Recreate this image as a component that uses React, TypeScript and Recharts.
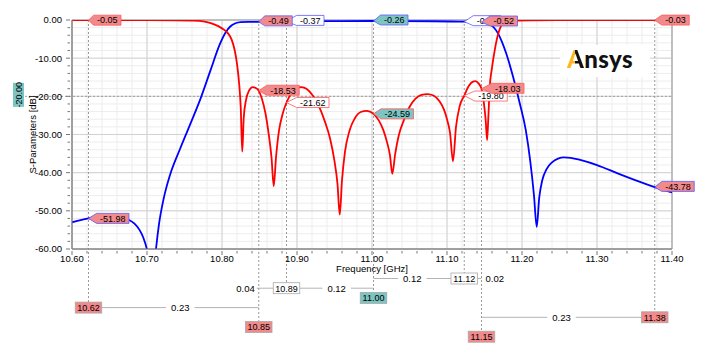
import React from 'react';
import {
  LineChart, Line, XAxis, YAxis, CartesianGrid,
  ReferenceLine, ReferenceDot, ReferenceArea,
} from 'recharts';

// S11 (red), [GHz, dB]
const s11Points: [number, number][] = [
  [10.6, -0.05], [10.65, -0.05], [10.7, -0.05], [10.74, -0.07], [10.76, -0.15],
  [10.775, -0.35], [10.785, -0.8], [10.795, -1.6], [10.803, -2.6], [10.808, -3.5],
  [10.813, -5.2], [10.817, -8], [10.82, -11.5], [10.823, -17], [10.825, -23],
  [10.827, -34.5], [10.829, -25.5], [10.832, -21], [10.836, -18.5], [10.841, -17.6],
  [10.845, -17.8], [10.849, -18.53], [10.853, -20.5], [10.858, -24.5], [10.862, -29.5],
  [10.866, -36], [10.869, -43.5], [10.872, -36], [10.876, -29], [10.881, -24.5],
  [10.886, -21.62], [10.892, -19.3], [10.899, -17.9], [10.906, -17.6], [10.913, -18.1],
  [10.921, -19.8], [10.929, -22.5], [10.937, -26.5], [10.944, -31], [10.95, -37],
  [10.954, -43], [10.957, -51], [10.96, -42], [10.964, -34.5], [10.97, -29],
  [10.977, -25.8], [10.985, -24.1], [10.993, -23.8], [11.002, -24.59], [11.009, -26.3],
  [11.015, -28.8], [11.02, -32], [11.024, -35.5], [11.027, -40.3], [11.031, -35],
  [11.036, -30], [11.042, -26.5], [11.05, -22.8], [11.058, -20.6], [11.066, -19.6],
  [11.074, -19.4], [11.082, -19.8], [11.09, -21.3], [11.096, -23.5], [11.1, -26],
  [11.104, -29.5], [11.108, -37], [11.112, -28], [11.117, -22.5], [11.123, -19.8],
  [11.129, -17.3], [11.134, -16.2], [11.138, -16], [11.142, -16.6], [11.146, -18.03],
  [11.149, -21.5], [11.1515, -26], [11.1535, -31.5], [11.155, -26], [11.157, -17.5],
  [11.16, -12.5], [11.164, -7.5], [11.168, -3.8], [11.172, -1.6], [11.176, -0.7],
  [11.182, -0.3], [11.19, -0.15], [11.21, -0.08], [11.25, -0.05], [11.3, -0.04],
  [11.377, -0.03], [11.4, -0.03],
];

// S21 (blue), [GHz, dB]
const s21Points: [number, number][] = [
  [10.6, -53], [10.61, -52.5], [10.622, -51.98], [10.635, -51.6], [10.65, -51.5],
  [10.665, -51.7], [10.675, -52.3], [10.683, -53.3], [10.69, -55], [10.695, -57],
  [10.7, -60.2], [10.705, -66], [10.709, -66], [10.712, -60], [10.716, -53.5],
  [10.722, -47], [10.731, -40.4], [10.744, -33.8], [10.757, -27.6], [10.771, -20.8],
  [10.785, -13], [10.797, -6.4], [10.805, -3.2], [10.811, -1.7], [10.818, -0.85],
  [10.825, -0.55], [10.835, -0.5], [10.849, -0.49], [10.865, -0.42], [10.886, -0.37],
  [10.92, -0.31], [10.96, -0.27], [11.002, -0.26], [11.04, -0.28], [11.08, -0.33],
  [11.105, -0.39], [11.123, -0.44], [11.137, -0.48], [11.146, -0.52], [11.152, -0.75],
  [11.158, -1.2], [11.163, -2.1], [11.168, -3.5], [11.173, -5.6], [11.179, -8.8],
  [11.188, -14.8], [11.197, -21.8], [11.205, -28.8], [11.211, -37], [11.216, -46],
  [11.2196, -54.2], [11.223, -46.5], [11.227, -42], [11.233, -39], [11.24, -37.3],
  [11.248, -36.3], [11.256, -36], [11.265, -36.1], [11.28, -36.8], [11.3, -38],
  [11.33, -40.4], [11.35, -41.9], [11.377, -43.78], [11.4, -45.2],
];

// markers and their readouts
const markerFreqs = [10.622, 10.849, 10.886, 11.002, 11.123, 11.146, 11.377];
const s11Readouts = [-0.05, -18.53, -21.62, -24.59, -19.8, -18.03, -0.03];
const s21Readouts = [-51.98, -0.49, -0.37, -0.26, -0.44, -0.52, -43.78];
const yLimit = -20;

const xMajorTicks = [10.6, 10.7, 10.8, 10.9, 11.0, 11.1, 11.2, 11.3, 11.4];
const xMinorTicks = [
  10.6, 10.62, 10.64, 10.66, 10.68, 10.7, 10.72, 10.74, 10.76, 10.78,
  10.8, 10.82, 10.84, 10.86, 10.88, 10.9, 10.92, 10.94, 10.96, 10.98,
  11.0, 11.02, 11.04, 11.06, 11.08, 11.1, 11.12, 11.14, 11.16, 11.18,
  11.2, 11.22, 11.24, 11.26, 11.28, 11.3, 11.32, 11.34, 11.36, 11.38, 11.4,
];
const yMajorTicks = [0, -10, -20, -30, -40, -50, -60];
const yMinorTicks = [
  0, -2, -4, -6, -8, -10, -12, -14, -16, -18, -20, -22, -24, -26, -28, -30,
  -32, -34, -36, -38, -40, -42, -44, -46, -48, -50, -52, -54, -56, -58, -60,
];

// look of the marker table
const RED = '#ff0000';
const BLUE = '#0000ff';
const TAG_RED = '#f2898a';
const TAG_TEAL = '#7cc5c2';
const TAG_WHITE = '#ffffff';
const markerFill = [TAG_RED, TAG_RED, TAG_WHITE, TAG_TEAL, TAG_WHITE, TAG_RED, TAG_RED];
const markerRow = [3, 5, 1, 2, 0, 6, 4];
const s11Shift: [number, number][] = [[5, 0], [8, -0.5], [10, 0], [7.5, 0], [10.5, 0.5], [10, -0.5], [7, 0]];
const s21Shift: [number, number][] = [[8, 0], [6, -1], [10, -1], [7, -1], [9, -1], [8.5, -1], [7, -0.7]];
const s21Order = [0, 2, 1, 3, 4, 5, 6];

const charW = (c: string) => (c === '.' ? 0.278 : c === '-' ? 0.333 : 0.556);
const textWidth = (s: string, size: number) =>
  s.split('').reduce((w, c) => w + charW(c) * size, 0);
const isMajor = (v: number, step: number) => Math.abs(v / step - Math.round(v / step)) < 1e-6;
const rowY = (bottom: number, row: number) => bottom + 29.5 + 9.7 * row;
const tagW = (s: string) => textWidth(s, 9) + 4;

function XTick(props: any) {
  const { x, y, payload } = props;
  const v = payload.value as number;
  const major = isMajor(v, 0.1);
  return (
    <g>
      <line x1={x} x2={x} y1={y} y2={y + (major ? 4 : 2.5)} stroke="#777" />
      {major && (
        <text x={x} y={y + 11.2} textAnchor="middle" fontSize={9.5} fill="#000">
          {v.toFixed(2)}
        </text>
      )}
    </g>
  );
}

function YTick(props: any) {
  const { x, y, payload } = props;
  const v = payload.value as number;
  const major = isMajor(v, 10);
  return (
    <g>
      <line x1={x - (major ? 4 : 2.5)} x2={x} y1={y} y2={y} stroke="#777" />
      {major && (
        <text x={x - 8} y={y + 3.4} textAnchor="end" fontSize={9.5} fill="#000">
          {v.toFixed(2)}
        </text>
      )}
    </g>
  );
}

function Readout({ cx, cy, text, fill, stroke, dx, dy }: any) {
  const w = textWidth(text, 9) + 7;
  const h = 10;
  const bx = cx + dx;
  const by = cy + dy;
  const pts = `${cx},${cy} ${bx},${by - h / 2} ${bx + w},${by - h / 2} ${bx + w},${by + h / 2} ${bx},${by + h / 2}`;
  return (
    <g>
      <polygon points={pts} fill={fill} stroke={stroke} strokeWidth={0.8} />
      <text x={bx + w / 2} y={by + 3.3} textAnchor="middle" fontSize={9} fill="#000">{text}</text>
    </g>
  );
}

function FreqTag({ x, y, text, fill }: any) {
  const w = tagW(text);
  return (
    <g>
      <rect x={x - w / 2} y={y - 5.5} width={w} height={11} fill={fill} stroke="#a8a8a8" strokeWidth={0.8} />
      <text x={x} y={y + 3.3} textAnchor="middle" fontSize={9} fill="#000">{text}</text>
    </g>
  );
}

const markerShape = (i: number) => (p: any) => {
  const x = p.x1;
  const top = Math.min(p.y1, p.y2);
  const bottom = Math.max(p.y1, p.y2);
  const y = rowY(bottom, markerRow[i]);
  return (
    <g>
      <line x1={x} x2={x} y1={top} y2={y - 5.5} stroke="#9a9a9a" strokeDasharray="2 2" />
      <FreqTag x={x} y={y} text={markerFreqs[i].toFixed(2)} fill={markerFill[i]} />
    </g>
  );
};

const deltaShape = (i: number) => (p: any) => {
  const xa = Math.min(p.x1, p.x2);
  const xb = Math.max(p.x1, p.x2);
  const bottom = p.y1;
  const ra = markerRow[i];
  const rb = markerRow[i + 1];
  const ownerIsA = ra < rb;
  const y = rowY(bottom, Math.min(ra, rb));
  const text = (markerFreqs[i + 1] - markerFreqs[i]).toFixed(2);
  const tw = textWidth(text, 9.5);
  const lc = '#b4b4b4';
  if (xb - xa < 45) {
    if (ownerIsA) {
      return (
        <g>
          <line x1={xa} x2={xb} y1={y} y2={y} stroke={lc} />
          <text x={xb + 4} y={y + 3.4} fontSize={9.5} fill="#000">{text}</text>
        </g>
      );
    }
    return (
      <g>
        <line x1={xa - 2} x2={xb} y1={y} y2={y} stroke={lc} />
        <text x={xa - 4} y={y + 3.4} textAnchor="end" fontSize={9.5} fill="#000">{text}</text>
      </g>
    );
  }
  const ow = tagW(markerFreqs[ownerIsA ? i : i + 1].toFixed(2));
  const mid = ownerIsA ? (xa + ow / 2 + xb) / 2 : (xa + xb - ow / 2) / 2;
  return (
    <g>
      <line x1={xa} x2={xb} y1={y} y2={y} stroke={lc} />
      <rect x={mid - tw / 2 - 5} y={y - 5} width={tw + 10} height={10} fill="#fff" />
      <text x={mid} y={y + 3.4} textAnchor="middle" fontSize={9.5} fill="#000">{text}</text>
    </g>
  );
};

const limitShape = (p: any) => {
  const lx = p.x1 - 53.5;
  const ly = p.y1 - 1.5;
  return (
    <g>
      <line x1={p.x1 - 47} x2={p.x2} y1={p.y1} y2={p.y2} stroke="#a0a0a0" strokeDasharray="2 2" />
      <g transform={`rotate(-90, ${lx}, ${ly})`}>
        <rect x={lx - 12} y={ly - 5.5} width={24} height={11} fill={TAG_TEAL} />
        <text x={lx} y={ly + 3.3} textAnchor="middle" fontSize={9} fill="#000">{yLimit.toFixed(2)}</text>
      </g>
    </g>
  );
};

export default function App() {
  const s11Data = s11Points.map(([f, db]) => ({ f, db }));
  const s21Data = s21Points.map(([f, db]) => ({ f, db }));

  return (
    <div
      style={{
        position: 'absolute', left: 0, top: 0, width: 709, height: 351,
        background: '#fff', fontFamily: '"Liberation Sans", Arial, sans-serif',
      }}
    >
      <LineChart width={709} height={351} margin={{ top: 20, right: 37, bottom: 79, left: 0 }}>
        <XAxis
          type="number" dataKey="f" domain={[10.6, 11.4]} ticks={xMinorTicks} interval={0}
          allowDataOverflow tickSize={0} tickLine={false} tick={<XTick />} height={23} stroke="#808080"
          label={{ value: 'Frequency [GHz]', position: 'insideBottom', offset: 0, fontSize: 9.5, fill: '#000' }}
        />
        <YAxis
          type="number" domain={[-60, 0]} ticks={yMinorTicks} interval={0}
          allowDataOverflow tickSize={0} tickLine={false} tick={<YTick />} width={72} stroke="#808080"
          label={{ value: 'S-Parameters [dB]', angle: -90, position: 'center', dx: -3, fontSize: 9.5, fill: '#000' }}
        />
        <XAxis xAxisId="major" type="number" dataKey="f" domain={[10.6, 11.4]} ticks={xMajorTicks} hide allowDataOverflow />
        <YAxis yAxisId="major" type="number" domain={[-60, 0]} ticks={yMajorTicks} hide allowDataOverflow />
        <CartesianGrid stroke="#ededed" />
        <CartesianGrid xAxisId="major" yAxisId="major" stroke="#d2d2d2" />
        <ReferenceArea x1={10.6} x2={11.4} y1={-60} y2={0} fill="none" stroke="#9a9a9a" ifOverflow="visible" />

        <ReferenceLine y={yLimit} shape={limitShape} />
        {markerFreqs.slice(0, -1).map((f, i) => (
          <ReferenceLine
            key={`d${i}`}
            segment={[{ x: f, y: -60 }, { x: markerFreqs[i + 1], y: -60 }]}
            ifOverflow="visible"
            shape={deltaShape(i)}
          />
        ))}
        {markerFreqs.map((f, i) => (
          <ReferenceLine key={`m${i}`} x={f} shape={markerShape(i)} />
        ))}

        <Line data={s21Data} dataKey="db" type="monotone" stroke={BLUE} strokeWidth={1.8} dot={false} isAnimationActive={false} />
        <Line data={s11Data} dataKey="db" type="monotone" stroke={RED} strokeWidth={1.8} dot={false} isAnimationActive={false} />

        {markerFreqs.map((f, i) => (
          <ReferenceDot
            key={`r11${i}`} x={f} y={s11Readouts[i]} r={0}
            shape={(p: any) => (
              <Readout cx={p.cx} cy={p.cy} text={s11Readouts[i].toFixed(2)} fill={markerFill[i]}
                stroke="#ff5a5a" dx={s11Shift[i][0]} dy={s11Shift[i][1]} />
            )}
          />
        ))}
        {s21Order.map((i) => (
          <ReferenceDot
            key={`r21${i}`} x={markerFreqs[i]} y={s21Readouts[i]} r={0}
            shape={(p: any) => (
              <Readout cx={p.cx} cy={p.cy} text={s21Readouts[i].toFixed(2)} fill={markerFill[i]}
                stroke="#5a5aff" dx={s21Shift[i][0]} dy={s21Shift[i][1]} />
            )}
          />
        ))}
      </LineChart>

      <div
        style={{
          position: 'absolute', left: 560, top: 45, width: 90, height: 32, background: '#fff',
          display: 'flex', alignItems: 'center', paddingLeft: 7, paddingBottom: 4,
          boxSizing: 'border-box',
          fontFamily: 'Lato, "Noto Sans", sans-serif', fontWeight: 900, fontSize: 24,
          lineHeight: 1, color: '#111', letterSpacing: 0.4, whiteSpace: 'nowrap',
        }}
      >
        <span
          style={{
            backgroundImage: 'linear-gradient(90deg, #ffb71b 50%, #111 50%)',
            WebkitBackgroundClip: 'text', backgroundClip: 'text', color: 'transparent',
          }}
        >
          A
        </span>
        <span>nsys</span>
      </div>
    </div>
  );
}
